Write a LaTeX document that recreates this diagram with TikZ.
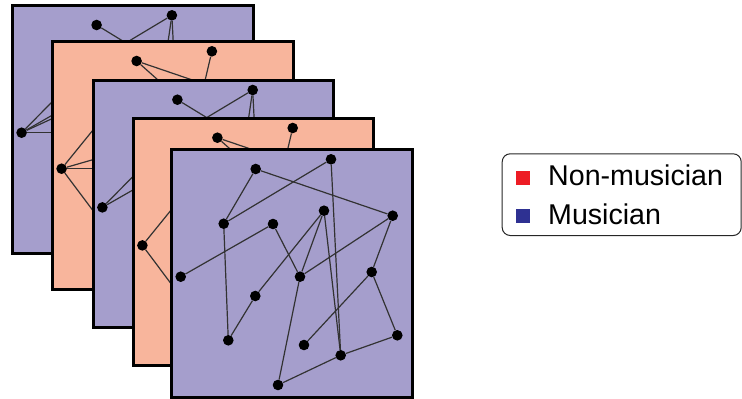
\documentclass[tikz,border=0pt]{standalone}
\usepackage{fontspec}
\setmainfont{Liberation Sans}

\definecolor{musician}{RGB}{165,158,204}
\definecolor{nonmusician}{RGB}{248,181,156}
\definecolor{legred}{RGB}{237,28,36}
\definecolor{legblue}{RGB}{46,49,146}
\definecolor{edgegray}{RGB}{50,50,50}

\tikzset{
  panel/.style={draw=black, line width=3pt},
  roi/.style={circle, fill=black, inner sep=0pt, minimum size=10.6pt},
  link/.style={draw=edgegray, line width=1.2pt},
  legendbox/.style={draw=black!85, line width=1pt, rounded corners=8pt,
    inner sep=0pt, anchor=north west},
  swatch/.style={inner sep=0pt, minimum size=14pt},
  legtext/.style={anchor=base west, inner sep=0pt,
    font=\fontsize{28.6}{32}\selectfont},
}

% region positions inside one panel (panel origin = top left corner)
\newcommand\roilist{A/84.1/19.7, B/159.4/10, C/52.1/74.4, D/101.4/74.7,
  E/152.4/61.4, F/221.1/66.4, G/9.1/127.4, H/128.4/127.4, I/200.1/122.7,
  J/83.7/146.7, K/56.7/191, L/132.4/195.7, M/225.7/186, N/169.1/206,
  O/106.4/235.7}

% #1 name prefix, #2 origin, #3 fill colour, #4 list of links
\newcommand\brainpanel[4]{%
  \begin{scope}[shift={#2}]
    \filldraw[panel, fill=#3] (0,0) rectangle (240.5,247.7);
    \foreach \n/\px/\py in \roilist {\node[roi] (#1\n) at (\px,\py) {};}
    \coordinate (#1X) at (59,77);
    \foreach \a/\b in {#4} {\draw[link] (#1\a) -- (#1\b);}
  \end{scope}}

\begin{document}
\begin{tikzpicture}[x=1pt, y=-1pt]
  \useasboundingbox (0,0) rectangle (742,399);

  % stack of connectivity panels, back to front
  \brainpanel{p1}{(12.5,5.3)}{musician}
    {A/E, B/C, B/L, B/N, G/X, G/D, G/E, G/H}
  \brainpanel{p2}{(52.5,41.3)}{nonmusician}
    {A/I, A/F, B/O, G/C, G/F, G/H, G/K}
  \brainpanel{p3}{(93.3,80)}{musician}
    {A/E, B/C, B/L, B/N, G/X, G/D}
  \brainpanel{p4}{(133.3,118)}{nonmusician}
    {A/I, A/F, B/O, G/C, G/K}
  \brainpanel{p5}{(171.6,149.3)}{musician}
    {A/C, A/F, B/C, B/N, E/N, E/J, E/H, D/G, D/H, F/H, F/I,
     C/K, J/K, H/O, I/L, I/M, M/N, N/O}

  % legend
  \node[legendbox, minimum width=239pt, minimum height=81.7pt]
    (legend) at (501.7,153.3) {};
  \node[swatch, fill=legred] (sqnon) at (522.8,178) {};
  \node[swatch, fill=legblue] (sqmus) at (522.8,216.3) {};
  \node[legtext] (txnon) at (548,185.7) {Non-musician};
  \node[legtext] (txmus) at (548,224) {Musician};
\end{tikzpicture}
\end{document}
